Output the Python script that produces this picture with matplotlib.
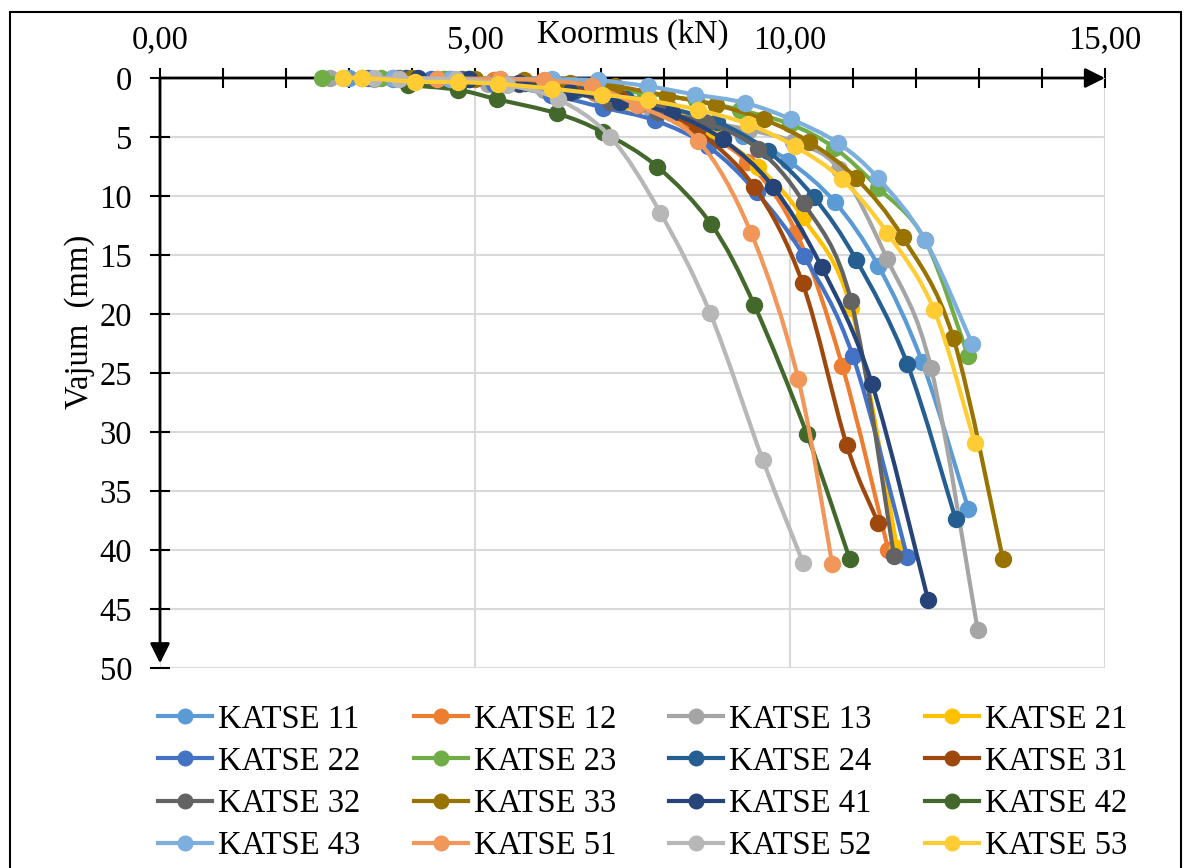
import numpy as np
import matplotlib
matplotlib.use("Agg")
import matplotlib.pyplot as plt
from matplotlib.path import Path
from matplotlib.patches import PathPatch, Rectangle
from matplotlib.lines import Line2D
from matplotlib.ticker import MultipleLocator

plt.rcParams["font.family"] = ["Liberation Serif", "DejaVu Serif"]

# koormus (kN) / vajum (mm)
k11_x = [3.0, 3.7, 4.5, 5.3, 6.2, 7.0, 7.7, 8.5, 9.25, 9.97, 10.71, 11.4, 12.1, 12.83]
k11_y = [0.0, 0.05, 0.1, 0.2, 0.3, 1.0, 1.9, 3.2, 4.9, 7.0, 10.5, 15.9, 24.1, 36.5]
k12_x = [3.2, 4.4, 5.3, 6.1, 6.9, 7.6, 8.45, 9.32, 10.1, 10.83, 11.56]
k12_y = [0.0, 0.05, 0.2, 0.6, 1.3, 2.3, 4.2, 7.1, 13.1, 24.4, 40.0]
k13_x = [2.7, 3.4, 4.3, 5.2, 6.1, 7.0, 7.8, 8.6, 9.35, 10.05, 10.78, 11.54, 12.24, 12.98]
k13_y = [0.0, 0.05, 0.2, 0.5, 1.0, 1.7, 2.6, 3.6, 4.4, 5.4, 7.7, 15.3, 24.6, 46.8]
k21_x = [3.9, 4.9, 5.8, 6.6, 7.4, 8.2, 8.8, 9.49, 10.2, 10.97, 11.7]
k21_y = [0.0, 0.1, 0.4, 1.0, 2.0, 3.2, 4.8, 7.5, 11.8, 19.5, 39.8]
k22_x = [3.3, 4.3, 5.3, 6.2, 7.03, 7.86, 8.7, 9.47, 10.22, 11.0, 11.86]
k22_y = [0.0, 0.1, 0.5, 1.4, 2.5, 3.6, 5.8, 9.7, 15.1, 23.6, 40.6]
k23_x = [2.57, 3.5, 4.5, 5.4, 6.2, 7.0, 7.7, 8.5, 9.2, 10.0, 10.7, 11.4, 12.14, 12.83]
k23_y = [0.0, 0.02, 0.1, 0.3, 0.6, 0.9, 1.3, 1.9, 2.7, 3.9, 5.9, 9.3, 13.7, 23.6]
k24_x = [3.9, 4.9, 5.8, 6.6, 7.4, 8.1, 8.84, 9.65, 10.38, 11.05, 11.86, 12.63]
k24_y = [0.0, 0.1, 0.4, 1.0, 1.8, 2.6, 3.7, 6.2, 10.1, 15.4, 24.2, 37.4]
k31_x = [3.7, 4.6, 5.7, 6.5, 7.3, 7.9, 8.52, 9.43, 10.2, 10.9, 11.4]
k31_y = [0.0, 0.1, 0.4, 0.9, 1.7, 2.8, 4.4, 9.2, 17.4, 31.1, 37.7]
k32_x = [3.8, 4.8, 5.7, 6.5, 7.14, 7.9, 8.68, 9.49, 10.22, 10.97, 11.65]
k32_y = [0.0, 0.1, 0.5, 1.2, 2.0, 2.9, 3.8, 6.0, 10.6, 18.9, 40.5]
k33_x = [4.0, 5.0, 5.77, 6.5, 7.22, 8.05, 8.83, 9.58, 10.3, 11.05, 11.79, 12.59, 13.38]
k33_y = [0.0, 0.1, 0.2, 0.4, 0.7, 1.5, 2.3, 3.5, 5.4, 8.5, 13.5, 22.0, 40.8]
k41_x = [4.1, 4.9, 5.7, 6.5, 7.3, 8.12, 8.93, 9.73, 10.5, 11.3, 12.19]
k41_y = [0.0, 0.05, 0.4, 1.2, 2.0, 3.0, 5.2, 9.2, 16.0, 25.9, 44.2]
k42_x = [3.94, 4.73, 5.35, 6.3, 7.03, 7.89, 8.75, 9.43, 10.27, 10.95]
k42_y = [0.6, 1.0, 1.8, 3.0, 4.6, 7.5, 12.4, 19.2, 30.2, 40.8]
k43_x = [2.9, 3.7, 4.6, 5.4, 6.22, 6.95, 7.75, 8.49, 9.28, 10.02, 10.76, 11.4, 12.14, 12.89]
k43_y = [0.0, 0.02, 0.05, 0.08, 0.1, 0.2, 0.7, 1.4, 2.1, 3.5, 5.5, 8.5, 13.7, 22.5]
k51_x = [3.2, 4.4, 5.4, 6.1, 6.86, 7.57, 8.54, 9.38, 10.13, 10.67]
k51_y = [0.0, 0.05, 0.1, 0.2, 0.7, 2.3, 5.3, 13.1, 25.5, 41.2]
k52_x = [3.4, 3.8, 4.7, 5.5, 6.32, 7.15, 7.94, 8.73, 9.57, 10.21]
k52_y = [0.0, 0.05, 0.1, 0.6, 1.8, 5.0, 11.4, 19.9, 32.4, 41.1]
k53_x = [2.9, 3.2, 4.05, 4.73, 5.37, 6.22, 7.02, 7.75, 8.54, 9.33, 10.08, 10.83, 11.54, 12.29, 12.93]
k53_y = [0.0, 0.0, 0.3, 0.35, 0.5, 0.9, 1.4, 1.9, 2.7, 3.9, 5.8, 8.6, 13.1, 19.7, 30.9]

labels = ["KATSE 11", "KATSE 12", "KATSE 13", "KATSE 21",
          "KATSE 22", "KATSE 23", "KATSE 24", "KATSE 31",
          "KATSE 32", "KATSE 33", "KATSE 41", "KATSE 42",
          "KATSE 43", "KATSE 51", "KATSE 52", "KATSE 53"]
xs = [k11_x, k12_x, k13_x, k21_x, k22_x, k23_x, k24_x, k31_x,
      k32_x, k33_x, k41_x, k42_x, k43_x, k51_x, k52_x, k53_x]
ys = [k11_y, k12_y, k13_y, k21_y, k22_y, k23_y, k24_y, k31_y,
      k32_y, k33_y, k41_y, k42_y, k43_y, k51_y, k52_y, k53_y]
colors = ["#5B9BD5", "#ED7D31", "#A5A5A5", "#FFC000",
          "#4472C4", "#70AD47", "#255E91", "#9E480E",
          "#636363", "#997300", "#264478", "#43682B",
          "#7CAFDD", "#F1975A", "#B7B7B7", "#FFCD33"]


def smooth_path(x, y):
    # excel-like smoothed line (catmull-rom as cubic bezier)
    pts = np.column_stack([x, y]).astype(float)
    n = len(pts)
    verts = [pts[0]]
    codes = [Path.MOVETO]
    for i in range(n - 1):
        p0 = pts[i - 1] if i > 0 else pts[i]
        p1 = pts[i]
        p2 = pts[i + 1]
        p3 = pts[i + 2] if i + 2 < n else pts[i + 1]
        verts += [p1 + (p2 - p0) / 6, p2 - (p3 - p1) / 6, p2]
        codes += [Path.CURVE4] * 3
    return Path(verts, codes)


W, H = 1184, 868
fs = 23.5
fig = plt.figure(figsize=(W / 100, H / 100), dpi=100)
ax = fig.add_axes([160 / W, (H - 668) / H, 945 / W, 590 / H])

ax.set_xlim(0, 15)
ax.set_ylim(50, 0)

for sp in ax.spines.values():
    sp.set_visible(False)

ax.xaxis.tick_top()
ax.xaxis.set_major_locator(MultipleLocator(5))
ax.xaxis.set_minor_locator(MultipleLocator(1))
ax.xaxis.set_major_formatter(plt.FuncFormatter(lambda v, p: "{:.2f}".format(v).replace(".", ",")))
ax.yaxis.set_major_locator(MultipleLocator(5))
ax.tick_params(axis="x", which="both", direction="inout", length=14, width=1.5,
               labelsize=fs, pad=9, top=True, bottom=False)
ax.tick_params(axis="y", which="major", direction="inout", length=14, width=1.5,
               labelsize=fs, pad=13)

ax.grid(True, which="major", color="#D9D9D9", lw=1.5, zorder=0)
ax.set_axisbelow(True)

# axis lines with arrows
ax.annotate("", xy=(15, 0), xytext=(0, 0),
            arrowprops=dict(arrowstyle="-|>", color="black", lw=2, mutation_scale=30,
                            shrinkA=0, shrinkB=0), zorder=2, annotation_clip=False)
ax.annotate("", xy=(0, 49.6), xytext=(0, 0),
            arrowprops=dict(arrowstyle="-|>", color="black", lw=2, mutation_scale=30,
                            shrinkA=0, shrinkB=0), zorder=2, annotation_clip=False)

handles = []
for i in range(len(labels)):
    ax.add_patch(PathPatch(smooth_path(xs[i], ys[i]), fill=False, edgecolor=colors[i],
                           lw=3, zorder=3 + i, clip_on=False))
    ax.plot(xs[i], ys[i], "o", color=colors[i], ms=11.5, zorder=3 + i, clip_on=False)
    handles.append(Line2D([], [], color=colors[i], lw=3, marker="o", ms=10.5))

fig.text(633 / W, 1 - 35 / H, "Koormus (kN)", ha="center", va="center", fontsize=fs)
fig.text(80 / W, 1 - 322 / H, "Vajum  (mm)", ha="center", va="center", rotation=90, fontsize=fs)

# legend is filled column by column, so reorder to read row by row
ncol = 4
order = [r * ncol + c for c in range(ncol) for r in range(len(labels) // ncol)]
fig.legend([handles[k] for k in order], [labels[k] for k in order], ncol=ncol,
           loc="upper left", bbox_to_anchor=(158 / W, 1 - 704 / H),
           frameon=False, fontsize=fs, handlelength=1.66, handletextpad=0.18,
           columnspacing=1.63, labelspacing=0.36, borderpad=0, borderaxespad=0)

fig.patches.append(Rectangle((10 / W, -0.01), 1171 / W, 1 - 12 / H + 0.01,
                             transform=fig.transFigure, fill=False, ec="black", lw=1.5))

fig.savefig("out.png", dpi=100)
